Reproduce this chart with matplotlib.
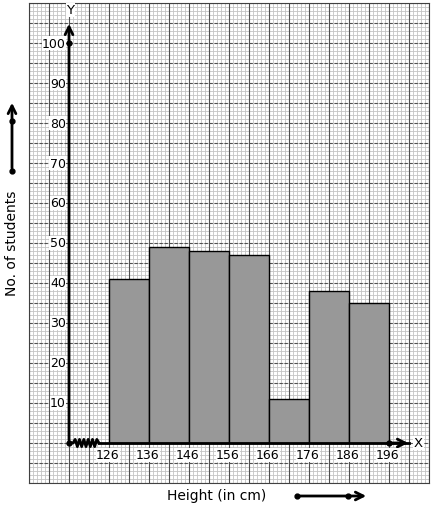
import numpy as np
import matplotlib.pyplot as plt

# class boundaries (cm) and number of students
edges = [126, 136, 146, 156, 166, 176, 186, 196]
students = [41, 49, 48, 47, 11, 38, 35]
y_ticks = [10, 20, 30, 40, 50, 60, 70, 80, 90, 100]

x0 = 116  # where the Y axis sits (origin, with a kink up to 126)

fig = plt.figure(figsize=(4.34, 5.10), dpi=100)
ax = fig.add_axes([29/434, 1-484/510, 400/434, 480/510])
ax.set_xlim(106, 206)
ax.set_ylim(-10, 110)

# graph paper
for v in np.arange(106, 207, 1):
    ax.axvline(v, color='#c4c4c4', lw=0.6, zorder=0)
for v in np.arange(-10, 111, 1):
    ax.axhline(v, color='#c4c4c4', lw=0.6, zorder=0)
for v in np.arange(106, 207, 5):
    ax.axvline(v, color='#505050', lw=0.8, zorder=0.5)
for v in np.arange(-10, 111, 5):
    ax.axhline(v, color='#505050', lw=0.8, ls=(0, (3, 1.5)), zorder=0.5)

ax.set_xticks([])
ax.set_yticks([])
for s in ax.spines.values():
    s.set_color('#404040')
    s.set_linewidth(0.8)

# histogram
ax.bar(edges[:-1], students, width=np.diff(edges), align='edge',
       color='#989898', edgecolor='black', lw=1, zorder=2)

# axes with arrows
ax.annotate('', xy=(x0, 105.5), xytext=(x0, 0),
            arrowprops=dict(arrowstyle='->', lw=2, color='black', mutation_scale=14), zorder=4)
ax.plot([x0 + 7.5, 201], [0, 0], color='black', lw=2, zorder=4)
ax.annotate('', xy=(201.5, 0), xytext=(195, 0),
            arrowprops=dict(arrowstyle='->', lw=2, color='black', mutation_scale=14), zorder=4)
zx = np.linspace(x0 + 1, x0 + 7.5, 13)
zy = np.array([0, 1, -1, 1, -1, 1, -1, 1, -1, 1, -1, 1, 0]) * 0.9
ax.plot(np.r_[x0, zx], np.r_[0, zy], color='black', lw=2, zorder=4)
ax.plot([x0, x0, edges[-1]], [0, 100, 0], 'o', color='black', ms=3.5, zorder=5)

ax.text(x0 + 0.3, 108.3, 'Y', fontsize=9.5, ha='center', va='center',
        bbox=dict(fc='white', ec='none', pad=0.5), zorder=6)
ax.text(203.4, 0, 'X', fontsize=9.5, ha='center', va='center',
        bbox=dict(fc='white', ec='none', pad=0.5), zorder=6)

for t in y_ticks:
    ax.text(115.2, t, str(t), fontsize=9, ha='right', va='center',
            bbox=dict(fc='white', ec='none', pad=0.3), zorder=6)
for e in edges:
    ax.text(e - 0.3, -3, str(e), fontsize=9, ha='center', va='center',
            bbox=dict(fc='white', ec='none', pad=0.3), zorder=6)

# outside labels and direction arrows
fig.text(0.5, 1-496/510, 'Height (in cm)', fontsize=10, ha='center', va='center')
fig.text(12/434, 1-243/510, 'No. of students', fontsize=10, ha='center', va='center',
         rotation=90)
fig.add_artist(plt.Line2D([12/434], [1-172/510], marker='o', color='black', ms=3.5))
fig.add_artist(plt.Line2D([12/434], [1-122/510], marker='o', color='black', ms=3.5))
ax.annotate('', xy=(12/434, 1-101/510), xytext=(12/434, 1-172/510),
            xycoords='figure fraction', textcoords='figure fraction',
            arrowprops=dict(arrowstyle='->', lw=2, color='black', mutation_scale=14))
fig.add_artist(plt.Line2D([297/434], [1-497/510], marker='o', color='black', ms=3.5))
fig.add_artist(plt.Line2D([348/434], [1-497/510], marker='o', color='black', ms=3.5))
ax.annotate('', xy=(369/434, 1-497/510), xytext=(297/434, 1-497/510),
            xycoords='figure fraction', textcoords='figure fraction',
            arrowprops=dict(arrowstyle='->', lw=2, color='black', mutation_scale=14))

fig.savefig('out.png', dpi=100)
